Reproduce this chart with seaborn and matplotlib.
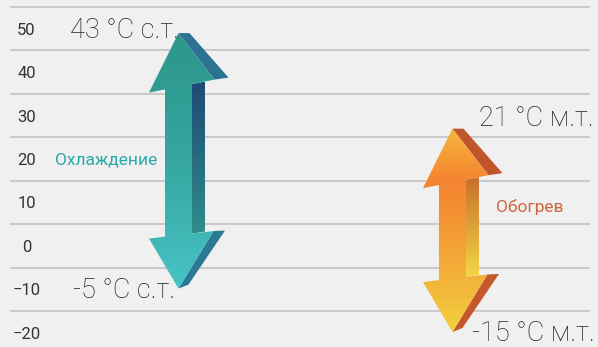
import numpy as np
import matplotlib.pyplot as plt
import seaborn as sns
from matplotlib.patches import Polygon
from matplotlib.colors import LinearSegmentedColormap

# data
modes = ['Охлаждение', 'Обогрев']
t_max = [43, 21]
t_min = [-5, -15]
suffix = ['с.т.', 'м.т.']
y_ticks = [50, 40, 30, 20, 10, 0, -10, -20]

# styles
front_cols = [['#2c968a', '#34a49e', '#48c3c5'],
              ['#f6b83c', '#f58330', '#f39433', '#f2b93b', '#f4d03f']]
front_stops = [[0, 0.45, 1], [0, 0.26, 0.45, 0.8, 1]]
side_cols = [['#1f4a76', '#2f8e8b'], ['#c86f2a', '#f5d645']]
head_side = [['#2b7391', '#2b7a95'], ['#c0542b', '#c4582c']]
label_cols = ['#2aa7a7', '#d2653c']

sns.set_theme(style='white')
plt.rcParams['font.family'] = ['Roboto', 'DejaVu Sans']

fig = plt.figure(figsize=(5.98, 3.47), dpi=100)
fig.patch.set_facecolor('#f0f0f0')
ax = fig.add_axes([10 / 598, 0, 580 / 598, 1])
ax.set_facecolor('#f0f0f0')
xlim = (-0.615, 1.502)
ylim = (-23.29, 56.61)
sx = 580 / (xlim[1] - xlim[0])   # px per x unit
sy = 347 / (ylim[1] - ylim[0])   # px per degree

# grid between the labels
ax.set_yticks(y_ticks)
ax.set_yticks(np.arange(-15, 56, 10), minor=True)
ax.grid(False)
ax.grid(which='minor', axis='y', color='#c6c6c6', lw=1.3)
ax.set_axisbelow(True)
ax.set_xticks([])
ax.tick_params(axis='y', which='both', length=0, pad=-16.5 * 0.72,
               labelsize=12, labelcolor='#333333')
for t in ax.get_yticklabels():
    t.set_horizontalalignment('center')
sns.despine(ax=ax, left=True, bottom=True)


def gradient_fill(pts, colors, stops, z):
    poly = Polygon(pts, closed=True, facecolor='none', edgecolor='none')
    ax.add_patch(poly)
    xs = [p[0] for p in pts]
    ys = [p[1] for p in pts]
    cmap = LinearSegmentedColormap.from_list('g', list(zip(stops, colors)))
    grad = np.linspace(0, 1, 256).reshape(-1, 1)
    im = ax.imshow(grad, extent=[min(xs), max(xs), min(ys), max(ys)],
                   origin='upper', aspect='auto', cmap=cmap, zorder=z,
                   interpolation='bilinear')
    im.set_clip_path(poly)


for i, name in enumerate(modes):
    cx = i
    top = t_max[i] + 26 / sy
    bot = t_min[i] - 21 / sy

    def T(dx, dy):
        return (cx + dx / sx, top - dy / sy)

    def B(dx, dy):
        return (cx + dx / sx, bot - dy / sy)

    front = [T(0, 0), T(36, 46.5), T(13.5, 51), B(13.5, -55), B(35, -57.5),
             B(0, 0), B(-29.5, -50), B(-13.5, -51.9), T(-13.5, 56.3),
             T(-29.5, 59.5)]
    shaft_side = [T(13.5, 51), T(26.5, 48.5), B(26.5, -57), B(13.5, -55)]
    top_side = [T(0, 0), T(11, 0), T(50, 44.5), T(36, 46.5)]
    bot_side = [B(35, -57.5), B(46.5, -58), B(10, -4), B(0, 0)]

    gradient_fill(shaft_side, side_cols[i], [0, 1], 3)
    ax.add_patch(Polygon(top_side, closed=True, facecolor=head_side[i][0],
                         edgecolor='none', zorder=4))
    ax.add_patch(Polygon(bot_side, closed=True, facecolor=head_side[i][1],
                         edgecolor='none', zorder=4))
    gradient_fill(front, front_cols[i], front_stops[i], 5)

    # end labels
    if i == 0:
        offs = [(1, 21, 'right'), (-3.5, -30.4, 'right')]
        name_off = (-21.5, -1.4, 'right')
    else:
        offs = [(26.5, 28.6, 'left'), (20, -30, 'left')]
        name_off = (43.5, 20.8, 'left')
    for val, (dx, dy, ha) in zip([t_max[i], t_min[i]], offs):
        ax.annotate(f'{val} °C {suffix[i]}', xy=(cx, val), xytext=(dx, dy),
                    textcoords='offset pixels', ha=ha, va='baseline',
                    fontsize=19.5, color='#222222', fontweight='light',
                    zorder=2)
    mid = (t_max[i] + t_min[i]) / 2
    ax.annotate(name, xy=(cx, mid), xytext=name_off[:2],
                textcoords='offset pixels', ha=name_off[2], va='baseline',
                fontsize=12.5, color=label_cols[i], zorder=2)

ax.set_xlim(*xlim)
ax.set_ylim(*ylim)
fig.savefig('out.png', dpi=100, facecolor=fig.get_facecolor())
